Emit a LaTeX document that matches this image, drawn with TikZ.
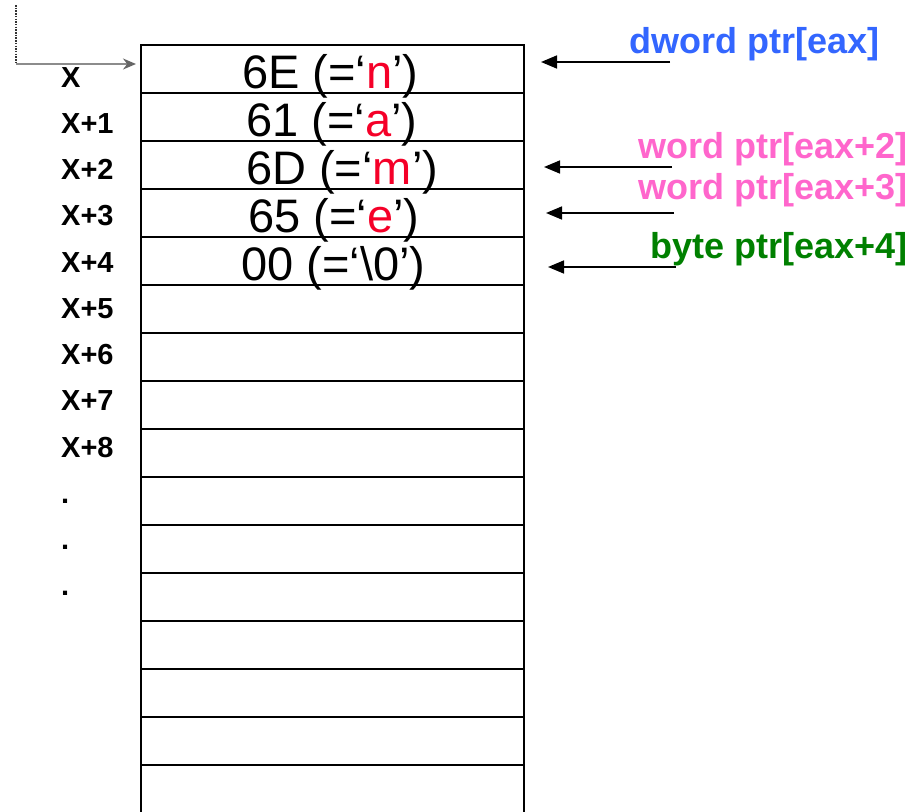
\documentclass[tikz,border=0pt]{standalone}
\usepackage{fontspec}
\setmainfont{Liberation Sans}
\usetikzlibrary{arrows.meta}
\definecolor{ptrblue}{RGB}{51,102,255}
\definecolor{ptrpink}{RGB}{255,102,204}
\definecolor{ptrgreen}{RGB}{0,128,0}
\definecolor{chred}{RGB}{245,0,40}
\tikzset{
  cell/.style={draw=black, line width=2pt, minimum width=383pt, minimum height=48pt, inner sep=0pt, outer sep=0pt},
  celltxt/.style={anchor=base west, inner sep=0pt, font=\fontsize{47}{47}\selectfont},
  addr/.style={anchor=base west, inner sep=0pt, font=\bfseries\fontsize{29}{29}\selectfont},
  ptrlbl/.style={anchor=base east, inner sep=0pt, font=\bfseries\fontsize{36}{36}\selectfont},
  ptrarrow/.style={draw=black, line width=1.6pt, -{Triangle[length=16pt,width=13pt]}},
}
\begin{document}
\begin{tikzpicture}[x=1pt,y=-1pt]
\useasboundingbox (0,0) rectangle (923,811);
\clip (0,0) rectangle (923,811);
% memory cells
\foreach \i in {1,...,16} {
  \node[cell] (r\i) at (332.5,{45+48*(\i-1)+24}) {};
}
% cell contents
\node[celltxt] (v1) at (242,88) {6E (=‘\textcolor{chred}{n}’)};
\node[celltxt] (v2) at (246,136.5) {61 (=‘\textcolor{chred}{a}’)};
\node[celltxt] (v3) at (246,184.5) {6D (=‘\textcolor{chred}{m}’)};
\node[celltxt] (v4) at (248,232.5) {65 (=‘\textcolor{chred}{e}’)};
\node[celltxt] (v5) at (241,280.5) {00 (=‘\textbackslash 0’)};
% addresses
\node[addr] (a0) at (61,87) {X};
\foreach \i in {1,...,8} {
  \node[addr] (a\i) at (61,{87+46.25*\i}) {X+\i};
}
\foreach \i in {9,10,11} {
  \node[addr] (a\i) at (61,{87+46.25*\i}) {.};
}
% base pointer arrow
\coordinate (p0) at (16,5);
\coordinate (p1) at (16,64);
\coordinate (p2) at (136,64);
\draw[black!80, line width=2.4pt, dash pattern=on 1.5pt off 1.2pt] (p0) -- (p1);
\draw[black!45, line width=1.8pt, -{Stealth[length=13pt,width=11pt,black!60]}] (p1) -- (p2);
% pointer labels
\node[ptrlbl, text=ptrblue] (l1) at (880,53) {dword ptr[eax]};
\node[ptrlbl, text=ptrpink] (l2) at (908,158) {word ptr[eax+2]};
\node[ptrlbl, text=ptrpink] (l3) at (908,199) {word ptr[eax+3]};
\node[ptrlbl, text=ptrgreen] (l4) at (908,258) {byte ptr[eax+4]};
% pointer arrows
\coordinate (s1) at (670,62);  \coordinate (e1) at (541,62);
\coordinate (s2) at (672,167); \coordinate (e2) at (544,167);
\coordinate (s3) at (674,213); \coordinate (e3) at (546,213);
\coordinate (s4) at (676,267); \coordinate (e4) at (548,267);
\draw[ptrarrow] (s1) -- (e1);
\draw[ptrarrow] (s2) -- (e2);
\draw[ptrarrow] (s3) -- (e3);
\draw[ptrarrow] (s4) -- (e4);
\end{tikzpicture}
\end{document}
